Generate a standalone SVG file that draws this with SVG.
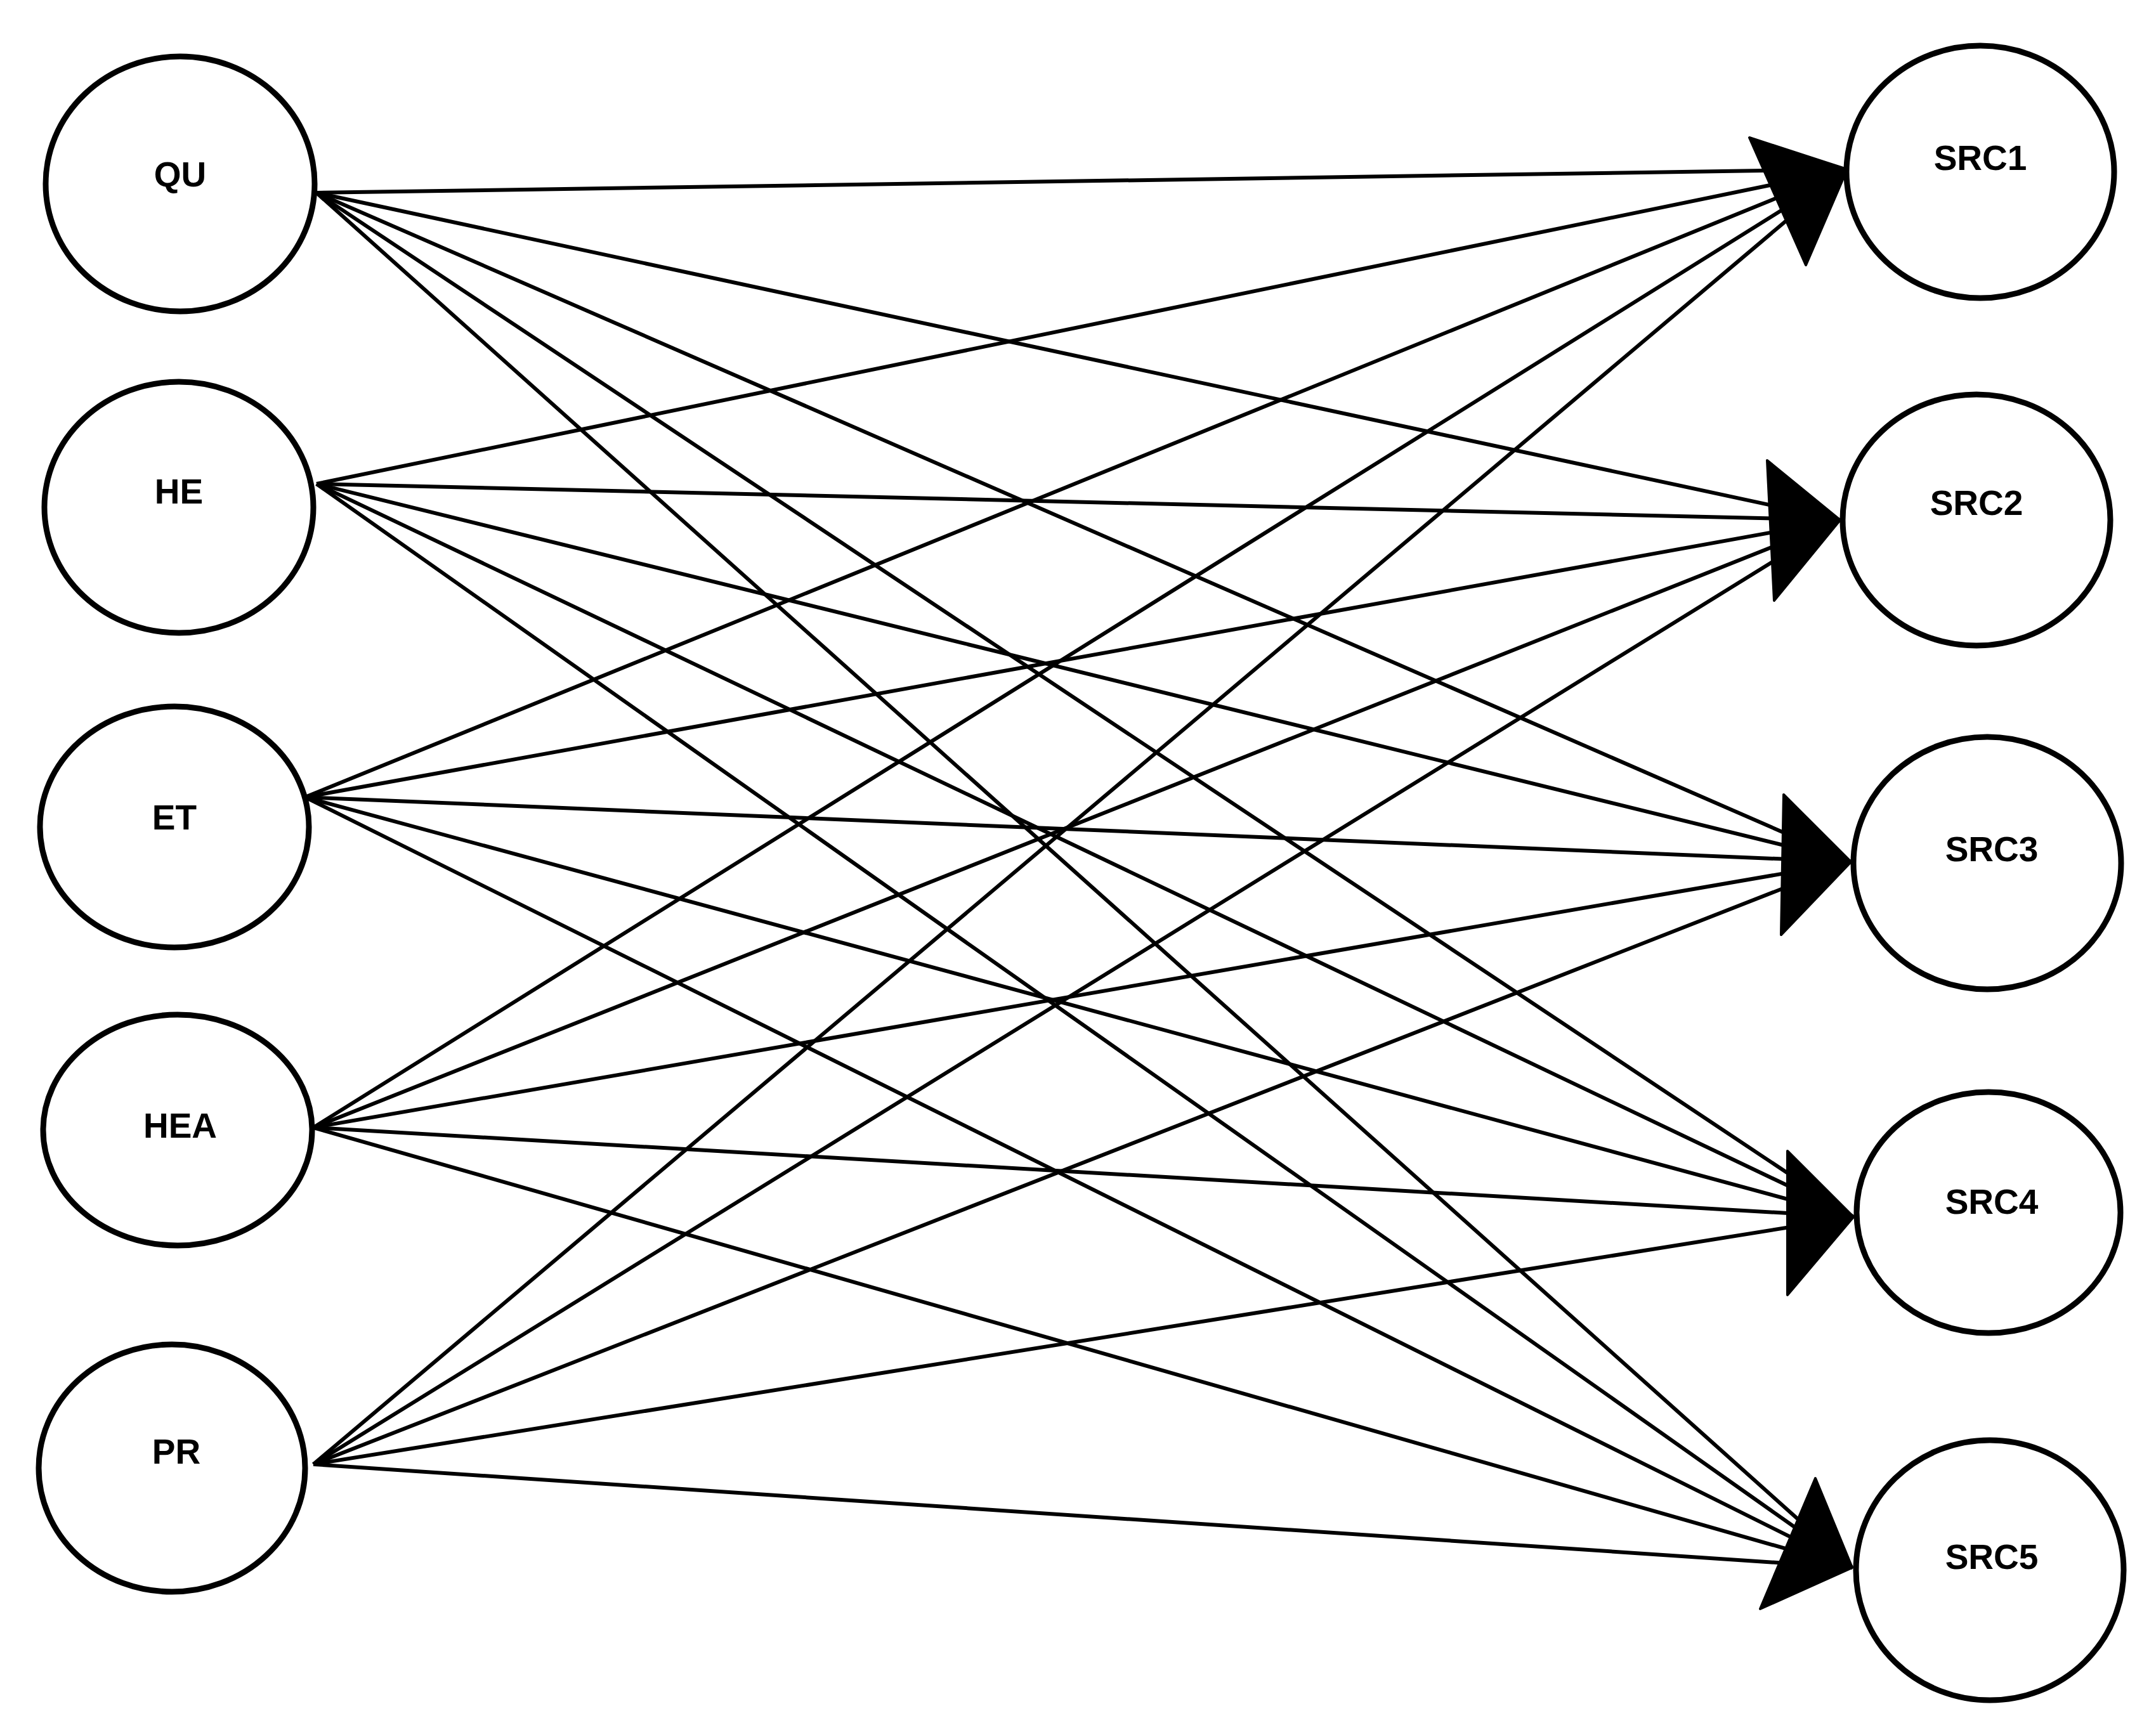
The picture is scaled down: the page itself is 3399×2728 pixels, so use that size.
<svg xmlns="http://www.w3.org/2000/svg" width="3399" height="2728" viewBox="0 0 3399 2728">
<style>
.n{fill:#fff;stroke:#000;stroke-width:9}
.t{font-family:"Liberation Sans",Arial,sans-serif;font-weight:bold;font-size:55px;text-anchor:middle;fill:#000}
.c line{stroke:#000;stroke-width:6}
.a{fill:#000;stroke:#000;stroke-width:4;stroke-linejoin:round}
</style>
<rect width="3399" height="2728" fill="#fff"/>
<g id="connectors" class="c">
<line x1="499" y1="304" x2="2912" y2="267"/><line x1="499" y1="304" x2="2901" y2="820"/><line x1="499" y1="304" x2="2918" y2="1359"/><line x1="499" y1="304" x2="2922" y2="1919"/><line x1="499" y1="304" x2="2920" y2="2472"/>
<line x1="499" y1="763" x2="2912" y2="267"/><line x1="499" y1="763" x2="2901" y2="820"/><line x1="499" y1="763" x2="2918" y2="1359"/><line x1="499" y1="763" x2="2922" y2="1919"/><line x1="499" y1="763" x2="2920" y2="2472"/>
<line x1="481" y1="1257" x2="2912" y2="267"/><line x1="481" y1="1257" x2="2901" y2="820"/><line x1="481" y1="1257" x2="2918" y2="1359"/><line x1="481" y1="1257" x2="2922" y2="1919"/><line x1="481" y1="1257" x2="2920" y2="2472"/>
<line x1="494" y1="1778" x2="2912" y2="267"/><line x1="494" y1="1778" x2="2901" y2="820"/><line x1="494" y1="1778" x2="2918" y2="1359"/><line x1="494" y1="1778" x2="2922" y2="1919"/><line x1="494" y1="1778" x2="2920" y2="2472"/>
<line x1="494" y1="2309" x2="2912" y2="267"/><line x1="494" y1="2309" x2="2901" y2="820"/><line x1="494" y1="2309" x2="2918" y2="1359"/><line x1="494" y1="2309" x2="2922" y2="1919"/><line x1="494" y1="2309" x2="2920" y2="2472"/>
<polygon class="a" points="2758,217 2912,267 2847,418"/>
<polygon class="a" points="2786,726 2901,820 2797,947"/>
<polygon class="a" points="2812,1253 2918,1359 2808,1474"/>
<polygon class="a" points="2818,1815 2922,1919 2818,2042"/>
<polygon class="a" points="2862,2331 2920,2472 2775,2537"/>
</g>
<g id="QU"><ellipse class="n" cx="284" cy="290" rx="212" ry="201"/><text class="t" x="284" y="294">QU</text></g>
<g id="HE"><ellipse class="n" cx="282" cy="800" rx="212" ry="198"/><text class="t" x="282" y="794">HE</text></g>
<g id="ET"><ellipse class="n" cx="275" cy="1304" rx="212" ry="190"/><text class="t" x="275" y="1308">ET</text></g>
<g id="HEA"><ellipse class="n" cx="280" cy="1782" rx="212" ry="182"/><text class="t" x="284" y="1794">HEA</text></g>
<g id="PR"><ellipse class="n" cx="271" cy="2315" rx="210" ry="195"/><text class="t" x="278" y="2308">PR</text></g>
<g id="SRC1"><ellipse class="n" cx="3122" cy="271" rx="211" ry="199"/><text class="t" x="3122" y="268">SRC1</text></g>
<g id="SRC2"><ellipse class="n" cx="3116" cy="820" rx="211" ry="198"/><text class="t" x="3116" y="812">SRC2</text></g>
<g id="SRC3"><ellipse class="n" cx="3133" cy="1361" rx="211" ry="199"/><text class="t" x="3140" y="1358">SRC3</text></g>
<g id="SRC4"><ellipse class="n" cx="3135" cy="1912" rx="208" ry="190"/><text class="t" x="3140" y="1914">SRC4</text></g>
<g id="SRC5"><ellipse class="n" cx="3137" cy="2476" rx="211" ry="205"/><text class="t" x="3140" y="2474">SRC5</text></g>
</svg>
